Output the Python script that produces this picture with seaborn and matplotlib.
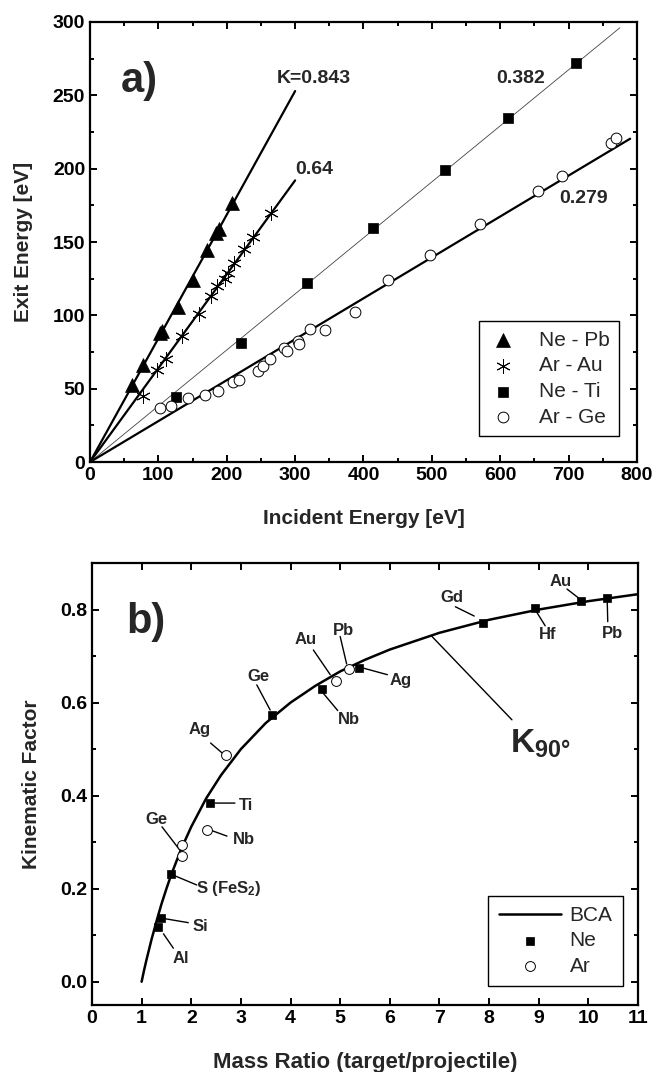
import numpy as np
import pandas as pd
import matplotlib
matplotlib.use("Agg")
import matplotlib.pyplot as plt
from matplotlib.ticker import MultipleLocator
import seaborn as sns

# ---------------- data: panel a) ----------------
nepb_E0 = [61.6, 77.1, 102.0, 105.0, 128.2, 150.0, 171.0, 185.0, 188.0, 207.6]
nepb_E1 = [52.5, 66.1, 88.0, 89.0, 105.9, 124.0, 144.5, 156.0, 159.0, 176.3]

arau_E0 = [77.1, 98.1, 111.2, 134.6, 158.8, 176.9, 185.7, 197.0, 202.0, 211.0, 225.5, 238.7, 265.4]
arau_E1 = [45.0, 62.7, 70.0, 85.9, 100.7, 113.4, 120.0, 125.0, 129.0, 135.9, 145.0, 153.2, 169.5]

neti_E0 = [125.8, 220.7, 318.0, 414.3, 518.5, 611.0, 710.7]
neti_E1 = [44.5, 80.9, 121.8, 159.7, 199.0, 234.3, 272.2]

arge_E0 = [102.9, 119.0, 143.8, 168.6, 186.6, 208.5, 217.2, 245.0, 252.3, 263.5, 284.0, 288.0,
           304.8, 305.8, 321.4, 343.8, 387.6, 436.2, 497.0, 571.0, 654.7, 689.8, 761.8, 769.6]
arge_E1 = [36.6, 38.2, 43.4, 45.5, 48.4, 54.5, 55.7, 62.2, 65.6, 70.0, 77.7, 75.7,
           82.7, 80.2, 90.7, 90.0, 102.2, 124.0, 141.3, 162.0, 184.7, 195.2, 217.3, 220.7]

fit_K = [0.843, 0.64, 0.382, 0.279]
fit_xend = [300, 300, 775, 790]
fit_labels = ["K=0.843", "0.64", "0.382", "0.279"]

# ---------------- data: panel b) ----------------
ne_ratio = [1.33, 1.40, 1.59, 2.38, 3.62, 4.63, 5.38, 7.87, 8.93, 9.85, 10.37]
ne_K = [0.118, 0.138, 0.231, 0.384, 0.574, 0.629, 0.674, 0.771, 0.804, 0.819, 0.824]

ar_ratio = [1.81, 1.81, 2.31, 2.70, 4.91, 5.18]
ar_K = [0.293, 0.270, 0.326, 0.487, 0.647, 0.672]

bca_ratio = [1.0, 1.05, 1.1, 1.2, 1.3, 1.4, 1.5, 1.6, 1.8, 2.0, 2.3, 2.6, 3.0, 3.5,
             4.0, 4.5, 5.0, 5.5, 6.0, 7.0, 8.0, 9.0, 10.0, 11.0]
bca_K = [0.0, 0.025, 0.048, 0.091, 0.130, 0.167, 0.200, 0.231, 0.286, 0.333, 0.394, 0.444,
         0.500, 0.556, 0.600, 0.636, 0.667, 0.692, 0.714, 0.750, 0.778, 0.800, 0.818, 0.833]

# ---------------- style ----------------
sns.set_theme(style="ticks")
plt.rcParams["font.family"] = ["Liberation Sans", "DejaVu Sans"]
plt.rcParams["font.weight"] = "bold"
plt.rcParams["axes.labelweight"] = "bold"
plt.rcParams["mathtext.fontset"] = "custom"
plt.rcParams["mathtext.rm"] = "Liberation Sans:bold"
plt.rcParams["mathtext.it"] = "Liberation Sans:bold"
plt.rcParams["mathtext.bf"] = "Liberation Sans:bold"
plt.rcParams["mathtext.default"] = "rm"

fig = plt.figure(figsize=(6.56, 10.72), dpi=100)
ax1 = fig.add_axes([0.1372, 0.569, 0.9710 - 0.1372, 0.9795 - 0.569])
ax2 = fig.add_axes([0.1402, 0.0625, 0.9726 - 0.1402, 0.4748 - 0.0625])

def style_axes(ax):
    for s in ax.spines.values():
        s.set_linewidth(1.6)
        s.set_color("black")
    ax.tick_params(which="both", direction="in", top=True, right=True,
                   colors="black", labelsize=14, width=1.4)
    ax.tick_params(which="major", length=5)
    ax.tick_params(which="minor", length=3)
    ax.grid(False)

# ---------------- panel a ----------------
line_w = [1.6, 1.6, 0.6, 1.6]
line_c = ["black", "black", "#444444", "black"]
for K, xe, lw, c in zip(fit_K, fit_xend, line_w, line_c):
    sns.lineplot(x=[0, xe], y=[0, K * xe], ax=ax1, color=c, lw=lw, sort=False,
                 estimator=None, legend=False)

sns.scatterplot(x=nepb_E0, y=nepb_E1, ax=ax1, marker="^", s=100, color="black",
                edgecolor="black", linewidth=0.5, label="Ne - Pb", zorder=5)
sns.scatterplot(x=arau_E0, y=arau_E1, ax=ax1, marker=(6, 2, 0), s=95, color="black",
                edgecolor="black", linewidth=0.7, label="Ar - Au", zorder=5)
sns.scatterplot(x=neti_E0, y=neti_E1, ax=ax1, marker="s", s=45, color="black",
                edgecolor="black", linewidth=0.5, label="Ne - Ti", zorder=5)
sns.scatterplot(x=arge_E0, y=arge_E1, ax=ax1, marker="o", s=60, color="white",
                edgecolor="black", linewidth=0.7, label="Ar - Ge", zorder=5)

ax1.set_xlim(0, 800)
ax1.set_ylim(0, 300)
ax1.xaxis.set_major_locator(MultipleLocator(100))
ax1.xaxis.set_minor_locator(MultipleLocator(50))
ax1.yaxis.set_major_locator(MultipleLocator(50))
ax1.yaxis.set_minor_locator(MultipleLocator(25))
style_axes(ax1)
ax1.set_xlabel("Incident Energy [eV]", fontsize=15, labelpad=18)
ax1.set_ylabel("Exit Energy [eV]", fontsize=15, labelpad=14)

lab_pos = [(273, 261.6), (300, 199.5), (594.6, 261.6), (687, 179.8)]
for txt, (lx, ly) in zip(fit_labels, lab_pos):
    ax1.text(lx, ly, txt, fontsize=14, fontweight="bold", ha="left", va="center")
ax1.text(45, 260, "a)", fontsize=30, fontweight="bold", ha="left", va="center")

leg1 = ax1.legend(loc="lower right", bbox_to_anchor=(0.967, 0.059), borderaxespad=0,
                  frameon=True, fancybox=False, edgecolor="black", framealpha=1,
                  prop={"size": 15, "weight": "normal"}, handletextpad=1.0,
                  borderpad=0.45, labelspacing=0.32, handlelength=1.4)
leg1.get_frame().set_linewidth(1.0)

# ---------------- panel b ----------------
sns.lineplot(x=bca_ratio, y=bca_K, ax=ax2, color="black", lw=1.8, sort=False,
             estimator=None, label="BCA")
sns.scatterplot(x=ne_ratio, y=ne_K, ax=ax2, marker="s", s=35, color="black",
                edgecolor="black", linewidth=0.5, label="Ne", zorder=5)
sns.scatterplot(x=ar_ratio, y=ar_K, ax=ax2, marker="o", s=50, color="white",
                edgecolor="black", linewidth=0.7, label="Ar", zorder=5)

ax2.set_xlim(0, 11)
ax2.set_ylim(-0.05, 0.9)
ax2.xaxis.set_major_locator(MultipleLocator(1))
ax2.yaxis.set_major_locator(MultipleLocator(0.2))
ax2.yaxis.set_minor_locator(MultipleLocator(0.1))
ax2.yaxis.set_major_formatter(matplotlib.ticker.FormatStrFormatter("%.1f"))
style_axes(ax2)
ax2.set_xlabel("Mass Ratio (target/projectile)", fontsize=16, labelpad=18)
ax2.set_ylabel("Kinematic Factor", fontsize=15, labelpad=14)

# annotation labels: (text, text position, leader line start, leader line end)
ann = [
    ("Al", (1.79, 0.049), (1.64, 0.072), (1.44, 0.103)),
    ("Si", (2.18, 0.118), (1.94, 0.127), (1.44, 0.136)),
    ("S (FeS$_2$)", (2.75, 0.201), (2.11, 0.208), (1.64, 0.229)),
    ("Ti", (3.11, 0.378), (2.88, 0.384), (2.48, 0.384)),
    ("Ge", (3.35, 0.656), (3.32, 0.638), (3.59, 0.584)),
    ("Nb", (5.18, 0.563), (4.95, 0.583), (4.66, 0.620)),
    ("Ag", (6.22, 0.647), (5.95, 0.660), (5.47, 0.674)),
    ("Gd", (7.26, 0.825), (7.32, 0.806), (7.70, 0.786)),
    ("Hf", (9.18, 0.746), (9.13, 0.765), (8.95, 0.796)),
    ("Au", (9.44, 0.860), (9.57, 0.844), (9.80, 0.825)),
    ("Pb", (10.49, 0.748), (10.39, 0.774), (10.38, 0.817)),
    ("Ge", (1.30, 0.348), (1.41, 0.333), (1.77, 0.283)),
    ("Nb", (3.06, 0.306), (2.72, 0.313), (2.41, 0.325)),
    ("Ag", (2.16, 0.543), (2.39, 0.513), (2.63, 0.491)),
    ("Au", (4.31, 0.735), (4.46, 0.713), (4.80, 0.660)),
    ("Pb", (5.07, 0.756), (5.00, 0.742), (5.13, 0.683)),
]
for txt, tp, ls, le in ann:
    ax2.annotate("", xy=le, xytext=ls,
                 arrowprops=dict(arrowstyle="-", lw=1.0, color="black",
                                 shrinkA=0, shrinkB=0))
    ax2.text(tp[0], tp[1], txt, fontsize=12, fontweight="bold",
             ha="center", va="center")

ax2.annotate("", xy=(6.85, 0.742), xytext=(8.46, 0.563),
             arrowprops=dict(arrowstyle="-", lw=1.0, color="black",
                             shrinkA=0, shrinkB=0))
ax2.text(8.43, 0.492, "K$_{90°}$", fontsize=24, ha="left", va="baseline")
ax2.text(0.7, 0.774, "b)", fontsize=30, fontweight="bold", ha="left", va="center")

leg2 = ax2.legend(loc="lower right", bbox_to_anchor=(0.9725, 0.043), borderaxespad=0,
                  frameon=True, fancybox=False, edgecolor="black", framealpha=1,
                  prop={"size": 15, "weight": "normal"}, handletextpad=0.4,
                  borderpad=0.5, labelspacing=0.3, handlelength=3.0)
leg2.get_frame().set_linewidth(1.0)

fig.savefig("out.png", dpi=100)
